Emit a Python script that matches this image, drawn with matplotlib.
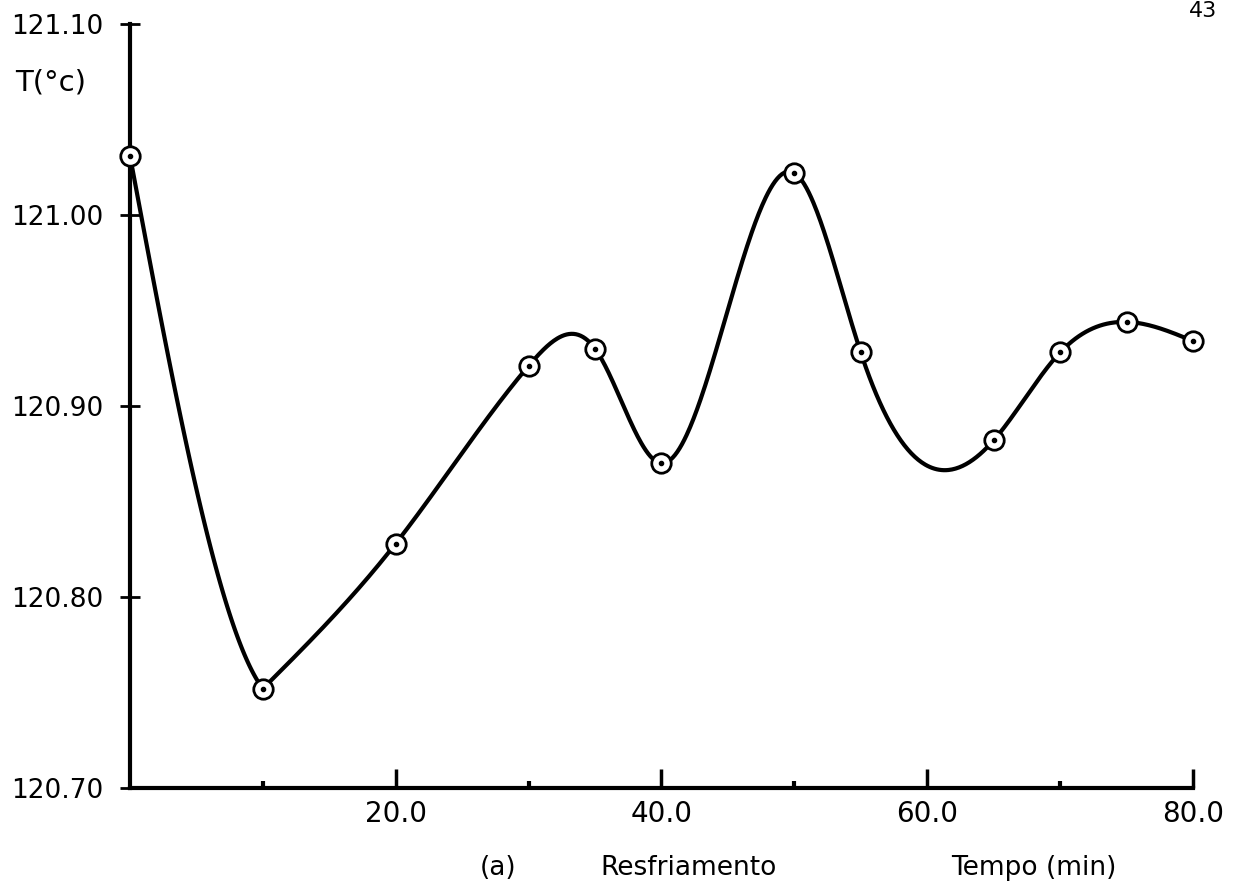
import numpy as np
import matplotlib
matplotlib.use("Agg")
import matplotlib.pyplot as plt
from matplotlib.ticker import FixedLocator

# measured temperatures during cooling
tempo = [0, 10, 20, 30, 35, 40, 50, 55, 65, 70, 75, 80]
temp = [121.031, 120.752, 120.828, 120.921, 120.930, 120.870,
        121.022, 120.928, 120.882, 120.928, 120.944, 120.934]

y_ticks = [120.70, 120.80, 120.90, 121.00, 121.10]
y_labels = ["120.70", "120.80", "120.90", "121.00", "121.10"]
x_major = [20, 40, 60, 80]
x_labels = ["20.0", "40.0", "60.0", "80.0"]
x_minor = [10, 30, 50, 70]


def natural_spline(x, y, n=800):
    x = np.asarray(x, float)
    y = np.asarray(y, float)
    k = len(x)
    h = np.diff(x)
    A = np.zeros((k, k))
    b = np.zeros(k)
    A[0, 0] = A[-1, -1] = 1.0
    for i in range(1, k - 1):
        A[i, i - 1] = h[i - 1]
        A[i, i] = 2 * (h[i - 1] + h[i])
        A[i, i + 1] = h[i]
        b[i] = 6 * ((y[i + 1] - y[i]) / h[i] - (y[i] - y[i - 1]) / h[i - 1])
    M = np.linalg.solve(A, b)
    xs = np.linspace(x[0], x[-1], n)
    idx = np.clip(np.searchsorted(x, xs) - 1, 0, k - 2)
    x0, x1 = x[idx], x[idx + 1]
    hh = x1 - x0
    a = (x1 - xs) / hh
    c = (xs - x0) / hh
    ys = (a * y[idx] + c * y[idx + 1]
          + ((a ** 3 - a) * M[idx] + (c ** 3 - c) * M[idx + 1]) * hh ** 2 / 6)
    return xs, ys


fig = plt.figure(figsize=(12.38, 8.84), dpi=100)
ax = fig.add_axes([0.105, 0.1086, 0.8586, 0.8643])

# the curve has a corner at the minimum (t = 10): the first drop comes from
# the spline through all points, the rest from a spline starting at t = 10
xa, ya = natural_spline(tempo, temp)
keep = xa <= tempo[1]
xa, ya = np.append(xa[keep], tempo[1]), np.append(ya[keep], temp[1])
xb, yb = natural_spline(tempo[1:], temp[1:])
for xs, ys in [(xa, ya), (xb, yb)]:
    ax.plot(xs, ys, color="black", lw=3, solid_capstyle="round",
            solid_joinstyle="round", zorder=2)
ax.plot(tempo, temp, "o", ms=14, mfc="white", mec="black", mew=2,
        clip_on=False, zorder=3)
ax.plot(tempo, temp, "o", ms=3, color="black", clip_on=False, zorder=4)

ax.set_xlim(0, 80)
ax.set_ylim(120.70, 121.10)

for side in ["top", "right"]:
    ax.spines[side].set_visible(False)
for side in ["left", "bottom"]:
    ax.spines[side].set_linewidth(3)

ax.xaxis.set_major_locator(FixedLocator(x_major))
ax.xaxis.set_minor_locator(FixedLocator(x_minor))
ax.set_xticklabels(x_labels)
ax.tick_params(axis="x", which="major", direction="in", length=14, width=2.5,
               labelsize=20, pad=9)
ax.tick_params(axis="x", which="minor", direction="in", length=5, width=3)

ax.yaxis.set_major_locator(FixedLocator(y_ticks))
ax.set_yticklabels(y_labels)
ax.tick_params(axis="y", which="major", direction="inout", length=14, width=2,
               labelsize=19, pad=12)

fig.text(0.012, 0.907, "T(°c)", fontsize=21, ha="left", va="center")
fig.text(0.402, 0.018, "(a)", fontsize=19, ha="center", va="center")
fig.text(0.556, 0.018, "Resfriamento", fontsize=19, ha="center", va="center")
fig.text(0.835, 0.018, "Tempo (min)", fontsize=19, ha="center", va="center")
fig.text(0.972, 0.988, "43", fontsize=16, ha="center", va="center")

fig.savefig("out.png", dpi=100, facecolor="white")
